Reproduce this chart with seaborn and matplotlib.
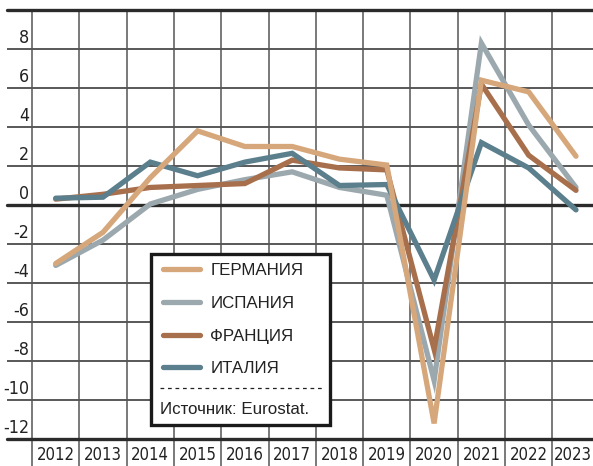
import pandas as pd
import numpy as np
import matplotlib
matplotlib.use('Agg')
import matplotlib.pyplot as plt
import matplotlib.transforms as mtransforms
import seaborn as sns
from matplotlib.patches import Rectangle
from matplotlib.lines import Line2D

# Данные
years = ['2012', '2013', '2014', '2015', '2016', '2017',
         '2018', '2019', '2020', '2021', '2022', '2023']
germany = [-3.0, -1.4, 1.4, 3.8, 3.0, 3.0, 2.35, 2.05, -11.2, 6.4, 5.8, 2.5]
spain = [-3.1, -1.8, 0.05, 0.8, 1.3, 1.7, 0.9, 0.5, -9.0, 8.3, 4.1, 0.9]
france = [0.3, 0.55, 0.9, 1.0, 1.1, 2.3, 1.9, 1.8, -7.4, 6.2, 2.55, 0.75]
italy = [0.35, 0.4, 2.2, 1.5, 2.2, 2.65, 1.0, 1.05, -3.85, 3.2, 1.9, -0.25]
countries = ['ГЕРМАНИЯ', 'ИСПАНИЯ', 'ФРАНЦИЯ', 'ИТАЛИЯ']
colors = ['#D6A77A', '#9BA8AE', '#A86F4C', '#5B7F8C']
y_ticks = [8, 6, 4, 2, 0, -2, -4, -6, -8, -10, -12]
source = 'Источник: Eurostat.'

df = pd.DataFrame({'x': list(range(len(years))) * 4,
                   'value': germany + spain + france + italy,
                   'country': np.repeat(countries, len(years))})

sns.set_theme(style='white')
plt.rcParams['font.family'] = ['Liberation Sans', 'DejaVu Sans']
narrow = ['DejaVu Sans']

W, H = 593, 466
fig = plt.figure(figsize=(W / 100, H / 100), dpi=100)
ax = fig.add_axes([7 / W, (H - 439) / H, 586 / W, 429 / H])

col_w = 47.3
x0 = (7 - 55.7) / col_w
x1 = (593 - 55.7) / col_w
ax.set_xlim(x0, x1)
ax.set_ylim(-12, 10)

grid_c = '#2b2b2b'
# горизонтальная сетка
for v in range(-10, 10, 2):
    if v == 0:
        continue
    ax.axhline(v, color=grid_c, lw=1.1, zorder=1)
for v in [-12, 0, 10]:
    ax.axhline(v, color=grid_c, lw=2.4, zorder=4, clip_on=False)
# вертикальная сетка (уходит в строку подписей)
ax.vlines(np.arange(-0.5, 12, 1), -0.065, 1, transform=ax.get_xaxis_transform(),
          color='#555555', lw=1.1, zorder=1, clip_on=False)

order = ['ИСПАНИЯ', 'ФРАНЦИЯ', 'ИТАЛИЯ', 'ГЕРМАНИЯ']
pal = dict(zip(countries, colors))
for i, c in enumerate(order):
    sns.lineplot(data=df[df['country'] == c], x='x', y='value', color=pal[c],
                 lw=3.8, ax=ax, zorder=5 + i, legend=False)
for l in ax.lines:
    l.set_solid_capstyle('round')
    l.set_solid_joinstyle('miter')

for s in ax.spines.values():
    s.set_visible(False)
ax.set_xlabel('')
ax.set_ylabel('')
ax.set_yticks([])
ax.set_xticks(range(len(years)))
ax.set_xticklabels(years, fontsize=12, family=narrow, fontstretch='condensed',
                   color='#222222')
ax.tick_params(axis='x', length=0, pad=5)
# последняя подпись чуть левее, чтобы не обрезалась краем
last = ax.get_xticklabels()[-1]
last.set_transform(last.get_transform() +
                   mtransforms.ScaledTranslation(-3 / 100, 0, fig.dpi_scale_trans))

tx = (29 - 55.7) / col_w
for v in y_ticks:
    ax.text(tx, v + 0.08, str(v), ha='right', va='bottom', fontsize=12.8,
            family=narrow, fontstretch='condensed', color='#222222', zorder=3)

# легенда в рамке с источником
bx0, bx1 = (151 - 7) / 586, (330 - 7) / 586
by0, by1 = (439 - 425) / 429, (439 - 254) / 429
ax.add_patch(Rectangle((bx0, by0), bx1 - bx0, by1 - by0, transform=ax.transAxes,
                       facecolor='white', edgecolor='#1a1a1a', lw=2.4, zorder=20))
handles = [Line2D([0], [0], color=pal[c], lw=3.8, solid_capstyle='round') for c in countries]
leg = ax.legend(handles, countries, loc='upper left', frameon=False,
                bbox_to_anchor=((163 - 7) / 586, (439 - 263) / 429),
                borderpad=0, borderaxespad=0, handlelength=2.2, handletextpad=0.6,
                labelspacing=1.05, fontsize=12.2)
leg.set_zorder(21)
for t in leg.get_texts():
    t.set_color('#222222')
ax.plot([(160 - 7) / 586, (322 - 7) / 586], [(439 - 388) / 429] * 2,
        transform=ax.transAxes, color='#222222', lw=0.9, ls=(0, (3, 3)), zorder=22)
ax.text((160 - 7) / 586, (439 - 410) / 429, source, transform=ax.transAxes,
        ha='left', va='center', fontsize=12.2, color='#222222', zorder=22)

fig.savefig('out.png', dpi=100)
